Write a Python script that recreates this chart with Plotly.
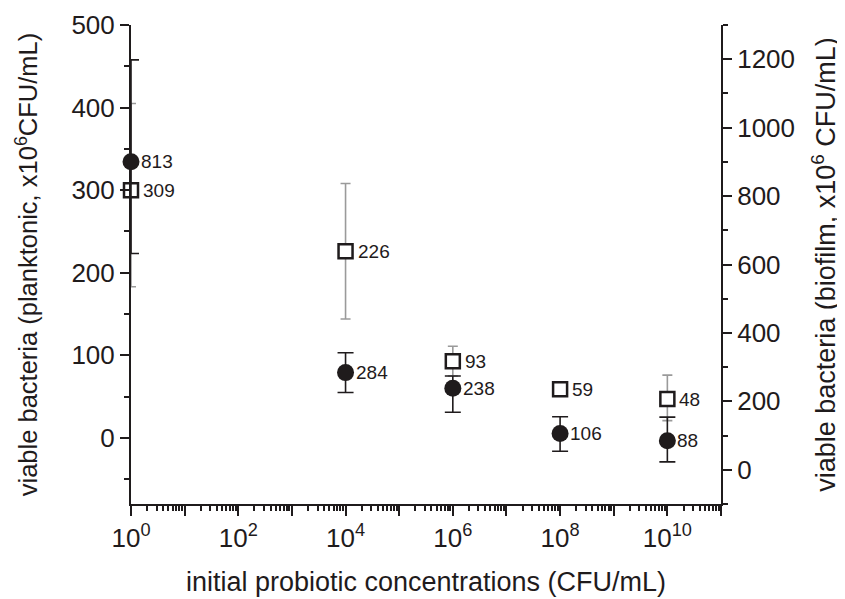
import numpy as np
import plotly.graph_objects as go

# ---- data ----
concentrations = [1e0, 1e4, 1e6, 1e8, 1e10]
planktonic = [300, 226, 93, 59, 47]          # left axis (squares)
planktonic_err_plus = [105, 82, 18, 6, 29]
planktonic_err_minus = [117, 82, 18, 6, 26]
planktonic_labels = ["309", "226", "93", "59", "48"]

biofilm = [900, 284, 238, 106, 85]           # right axis (circles)
biofilm_err_plus = [298, 58, 36, 49, 69]
biofilm_err_minus = [268, 58, 70, 52, 62]
biofilm_labels = ["813", "284", "238", "106", "88"]

x_tick_exponents = list(range(0, 12))
x_tick_labels = [f"10<sup>{k}</sup>" if k % 2 == 0 else "" for k in x_tick_exponents]

INK = "#1f1b1c"
FONT = "Liberation Sans, Arial, Helvetica, sans-serif"

fig = go.Figure()

fig.add_trace(go.Scatter(
    x=concentrations, y=planktonic, mode="markers", yaxis="y",
    marker=dict(symbol="square", size=14, color="white", line=dict(color=INK, width=2.5)),
    error_y=dict(type="data", symmetric=False, array=planktonic_err_plus,
                 arrayminus=planktonic_err_minus, color="#9a9a9a", thickness=1.6, width=5),
    cliponaxis=False, showlegend=False,
))
fig.add_trace(go.Scatter(
    x=concentrations, y=biofilm, mode="markers", yaxis="y2",
    marker=dict(symbol="circle", size=17, color=INK, line=dict(width=0)),
    error_y=dict(type="data", symmetric=False, array=biofilm_err_plus,
                 arrayminus=biofilm_err_minus, color=INK, thickness=1.6, width=8),
    cliponaxis=False, showlegend=False,
))

annotations = []
for c, v, t in zip(concentrations, planktonic, planktonic_labels):
    annotations.append(dict(x=np.log10(c), y=v, xref="x", yref="y", text=t,
                            showarrow=False, xanchor="left", yanchor="middle",
                            xshift=10, font=dict(size=19, color=INK, family=FONT)))
for c, v, t in zip(concentrations, biofilm, biofilm_labels):
    annotations.append(dict(x=np.log10(c), y=v, xref="x", yref="y2", text=t,
                            showarrow=False, xanchor="left", yanchor="middle",
                            xshift=8, font=dict(size=19, color=INK, family=FONT)))

minor_x = [m * 10 ** k for k in range(0, 11) for m in range(2, 10)]

fig.update_layout(
    width=845, height=599,
    margin=dict(l=123, r=132, t=17, b=103),
    plot_bgcolor="white", paper_bgcolor="white",
    font=dict(family=FONT, color=INK),
    annotations=annotations,
    xaxis=dict(
        type="log", range=[0, 11], automargin=False,
        tickvals=[10 ** k for k in x_tick_exponents], ticktext=x_tick_labels,
        ticks="outside", ticklen=10, tickwidth=2, tickcolor=INK,
        minor=dict(tickvals=minor_x, ticks="outside", ticklen=5, tickwidth=1.5, tickcolor=INK),
        showline=True, linewidth=2, linecolor=INK,
        showgrid=False, zeroline=False,
        tickfont=dict(size=26, color=INK),
        title=dict(text="initial probiotic concentrations (CFU/mL)",
                   font=dict(size=27, color=INK), standoff=20),
    ),
    yaxis=dict(
        range=[-80, 500], tick0=0, dtick=100, automargin=False,
        ticks="outside", ticklen=9, tickwidth=2, tickcolor=INK,
        minor=dict(tick0=0, dtick=50, ticks="outside", ticklen=5, tickwidth=1.5, tickcolor=INK),
        showline=True, linewidth=2, linecolor=INK,
        showgrid=False, zeroline=False,
        tickfont=dict(size=26, color=INK),
        title=dict(text="viable bacteria (planktonic, x10<sup>6</sup>CFU/mL)",
                   font=dict(size=25.5, color=INK), standoff=26),
    ),
    yaxis2=dict(
        overlaying="y", side="right", automargin=False,
        range=[-100, 1300], tick0=0, dtick=200,
        ticks="outside", ticklen=9, tickwidth=2, tickcolor=INK,
        minor=dict(tick0=0, dtick=100, ticks="outside", ticklen=5, tickwidth=1.5, tickcolor=INK),
        showline=True, linewidth=2, linecolor=INK,
        showgrid=False, zeroline=False,
        tickfont=dict(size=26, color=INK),
        title=dict(text="viable bacteria (biofilm, x10<sup>6</sup> CFU/mL)",
                   font=dict(size=27, color=INK), standoff=22),
    ),
)

fig.write_html("out.html")
